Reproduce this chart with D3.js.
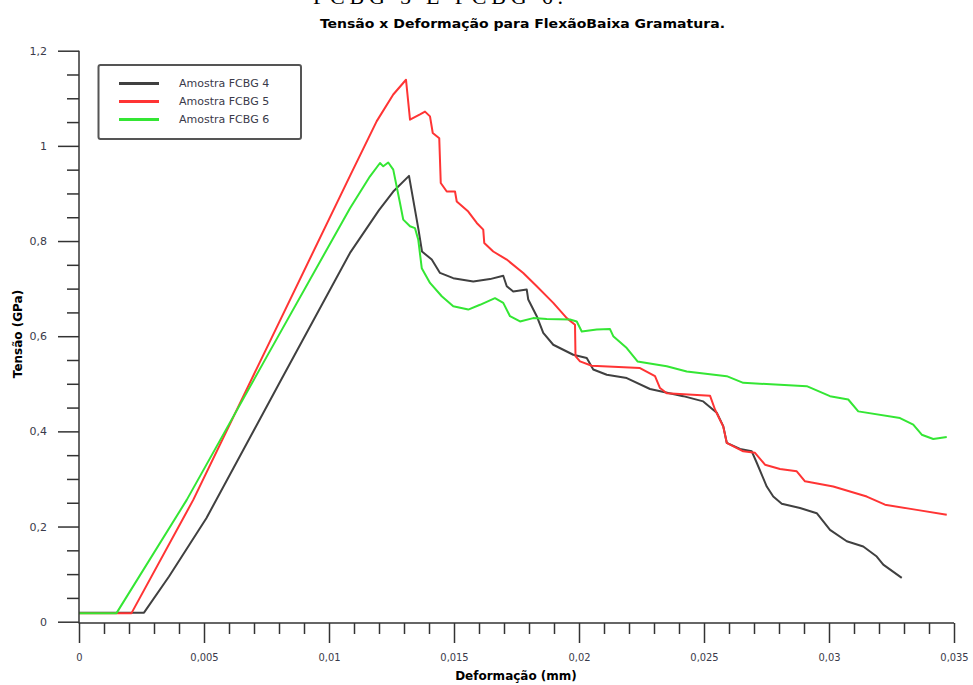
<!DOCTYPE html>
<html>
<head>
<meta charset="utf-8">
<script src="https://cdn.jsdelivr.net/npm/d3@7"></script>
<style>
  body { margin: 0; background: #fff; }
  svg { display: block; }
  .tick text { fill: #3a3a4a; }
</style>
</head>
<body>
<div id="chart"></div>
<script>
const width = 973;
const height = 685;

const seriesNames = ["Amostra FCBG 4", "Amostra FCBG 5", "Amostra FCBG 6"];
const seriesColors = ["#404040", "#ff3434", "#34e634"];

// Deformação (mm) / Tensão (GPa)
const strain4 = [0, 0.0026, 0.0036, 0.0051, 0.008, 0.01084, 0.012, 0.01257, 0.0132, 0.01358, 0.01372, 0.01411, 0.01444, 0.01497, 0.01577, 0.01644, 0.01697, 0.01711, 0.01737, 0.01791, 0.01797, 0.01831, 0.01857, 0.01897, 0.01977, 0.02031, 0.02057, 0.02111, 0.02191, 0.02284, 0.02417, 0.02497, 0.02551, 0.02577, 0.02591, 0.02644, 0.02691, 0.02711, 0.02751, 0.02777, 0.02811, 0.02884, 0.02951, 0.03004, 0.03071, 0.03137, 0.03191, 0.03217, 0.03291];
const stress4 = [0.019, 0.019, 0.095, 0.218, 0.5, 0.775, 0.865, 0.904, 0.937, 0.824, 0.778, 0.761, 0.733, 0.722, 0.715, 0.72, 0.727, 0.705, 0.694, 0.698, 0.677, 0.642, 0.607, 0.582, 0.561, 0.554, 0.53, 0.519, 0.512, 0.489, 0.474, 0.463, 0.439, 0.411, 0.376, 0.363, 0.358, 0.334, 0.284, 0.263, 0.248, 0.239, 0.228, 0.193, 0.169, 0.158, 0.137, 0.12, 0.092];

const strain5 = [0, 0.0021, 0.00457, 0.0077, 0.01084, 0.01191, 0.01257, 0.01308, 0.01324, 0.01364, 0.01384, 0.01404, 0.01415, 0.01441, 0.01447, 0.01471, 0.01504, 0.01511, 0.01557, 0.01591, 0.01617, 0.01621, 0.01657, 0.01711, 0.01777, 0.01831, 0.01897, 0.01951, 0.01984, 0.01986, 0.02004, 0.02051, 0.02244, 0.02304, 0.02324, 0.02351, 0.02524, 0.02544, 0.02577, 0.02591, 0.02657, 0.02704, 0.02744, 0.02804, 0.02871, 0.02904, 0.03017, 0.03151, 0.03224, 0.03351, 0.03471];
const stress5 = [0.018, 0.018, 0.256, 0.596, 0.937, 1.052, 1.108, 1.139, 1.055, 1.066, 1.072, 1.062, 1.027, 1.016, 0.922, 0.904, 0.904, 0.883, 0.862, 0.838, 0.824, 0.796, 0.778, 0.761, 0.733, 0.705, 0.67, 0.638, 0.624, 0.558, 0.547, 0.538, 0.533, 0.516, 0.491, 0.48, 0.475, 0.446, 0.41, 0.376, 0.358, 0.355, 0.33, 0.321, 0.316, 0.295, 0.284, 0.263, 0.246, 0.235, 0.225];

const strain6 = [0, 0.0015, 0.00431, 0.0075, 0.01084, 0.01164, 0.01204, 0.01217, 0.01237, 0.01257, 0.01284, 0.01297, 0.01324, 0.01344, 0.01357, 0.01371, 0.01404, 0.01451, 0.01497, 0.01557, 0.01604, 0.01664, 0.01697, 0.01724, 0.01764, 0.01817, 0.01871, 0.01964, 0.01991, 0.02011, 0.02071, 0.02124, 0.02137, 0.02191, 0.02234, 0.02351, 0.02431, 0.02591, 0.02657, 0.02911, 0.03004, 0.03077, 0.03117, 0.03284, 0.03337, 0.03371, 0.03417, 0.03471];
const stress6 = [0.018, 0.018, 0.256, 0.556, 0.869, 0.936, 0.964, 0.957, 0.965, 0.95, 0.88, 0.845, 0.831, 0.827, 0.803, 0.743, 0.712, 0.684, 0.663, 0.656, 0.666, 0.68, 0.67, 0.642, 0.631, 0.638, 0.636, 0.635, 0.631, 0.61, 0.614, 0.615, 0.6, 0.575, 0.547, 0.537, 0.526, 0.516, 0.502, 0.495, 0.474, 0.467, 0.442, 0.428, 0.414, 0.393, 0.384, 0.388];

const xTicks = [0, 0.005, 0.01, 0.015, 0.02, 0.025, 0.03, 0.035];
const yTicks = [0, 0.2, 0.4, 0.6, 0.8, 1, 1.2];

const series = [
  { name: seriesNames[0], color: seriesColors[0], pts: d3.zip(strain4, stress4) },
  { name: seriesNames[1], color: seriesColors[1], pts: d3.zip(strain5, stress5) },
  { name: seriesNames[2], color: seriesColors[2], pts: d3.zip(strain6, stress6) }
];

const br = d3.formatLocale({ decimal: ",", thousands: ".", grouping: [3], currency: ["", ""] });
const fmt = br.format("~g");

const svg = d3.select("#chart").append("svg")
  .attr("width", width)
  .attr("height", height);

const x = d3.scaleLinear().domain([0, 0.035]).range([79, 954]);
const y = d3.scaleLinear().domain([0, 1.2]).range([621.7, 50.7]);

// cut-off line of the page above the chart
svg.append("text")
  .attr("x", 313).attr("y", 4)
  .attr("textLength", 250)
  .style("font-family", "Liberation Serif")
  .style("font-size", "22px")
  .text("FCBG 5 E FCBG 6.");

svg.append("text")
  .attr("x", 320).attr("y", 28)
  .attr("textLength", 405)
  .attr("lengthAdjust", "spacingAndGlyphs")
  .style("font-family", "DejaVu Sans Condensed")
  .style("font-weight", "bold")
  .style("font-size", "13px")
  .text("Tensão x Deformação para FlexãoBaixa Gramatura.");

// curves
const line = d3.line().x(d => x(d[0])).y(d => y(d[1]));
svg.append("g")
  .selectAll("path")
  .data(series)
  .enter()
  .append("path")
  .attr("d", d => line(d.pts))
  .attr("fill", "none")
  .attr("stroke", d => d.color)
  .attr("stroke-width", 2)
  .attr("stroke-linejoin", "round");

// y axis: minor then major ticks
const yMinor = d3.range(0, 1.2001, 0.05).filter(v => !yTicks.some(t => Math.abs(t - v) < 1e-6));
svg.append("g")
  .attr("transform", "translate(79,0)")
  .call(d3.axisLeft(y).tickValues(yMinor).tickSize(12).tickFormat(""))
  .call(g => g.select(".domain").remove());
const yAxis = svg.append("g")
  .attr("transform", "translate(79,0)")
  .call(d3.axisLeft(y).tickValues(yTicks).tickSize(21).tickPadding(11).tickFormat(fmt))
  .call(g => g.select(".domain").remove());
yAxis.selectAll("text").style("font-family", "DejaVu Sans").style("font-size", "11px");

svg.append("line")
  .attr("x1", 79).attr("x2", 79)
  .attr("y1", y(1.2)).attr("y2", 623.5)
  .attr("stroke", "#333").attr("stroke-width", 1.5);

// x axis
const xMinor = d3.range(0, 0.03501, 0.001).filter(v => !xTicks.some(t => Math.abs(t - v) < 1e-7));
svg.append("g")
  .attr("transform", "translate(0,623)")
  .call(d3.axisBottom(x).tickValues(xMinor).tickSize(11).tickFormat(""))
  .call(g => g.select(".domain").remove());
const xAxis = svg.append("g")
  .attr("transform", "translate(0,623)")
  .call(d3.axisBottom(x).tickValues(xTicks).tickSize(20).tickPadding(10).tickFormat(fmt))
  .call(g => g.select(".domain").remove());
xAxis.selectAll("text").style("font-family", "DejaVu Sans Condensed").style("font-size", "11px");

svg.append("line")
  .attr("x1", 79).attr("x2", x(0.035))
  .attr("y1", 623).attr("y2", 623)
  .attr("stroke", "#333").attr("stroke-width", 1.5);

svg.selectAll(".tick line").attr("stroke", "#333").attr("stroke-width", 1.5);

// axis titles
svg.append("text")
  .attr("x", 516).attr("y", 680)
  .attr("text-anchor", "middle")
  .style("font-family", "DejaVu Sans")
  .style("font-weight", "bold")
  .style("font-size", "12px")
  .text("Deformação (mm)");

svg.append("text")
  .attr("transform", "translate(22,334) rotate(-90)")
  .attr("text-anchor", "middle")
  .style("font-family", "DejaVu Sans")
  .style("font-weight", "bold")
  .style("font-size", "12px")
  .text("Tensão (GPa)");

// legend
const legend = svg.append("g");
legend.append("rect")
  .attr("x", 98.5).attr("y", 65)
  .attr("width", 202.5).attr("height", 74)
  .attr("rx", 2)
  .attr("fill", "#fff")
  .attr("stroke", "#555")
  .attr("stroke-width", 2);

const item = legend.selectAll(".item")
  .data(series)
  .enter()
  .append("g")
  .attr("class", "item")
  .attr("transform", (d, i) => `translate(0,${83.5 + i * 18})`);
item.append("line")
  .attr("x1", 119).attr("x2", 159)
  .attr("stroke", d => d.color)
  .attr("stroke-width", 3);
item.append("text")
  .attr("x", 179).attr("dy", "0.35em")
  .style("font-family", "DejaVu Sans")
  .style("font-size", "11px")
  .style("fill", "#3a3a4a")
  .text(d => d.name);
</script>
</body>
</html>
